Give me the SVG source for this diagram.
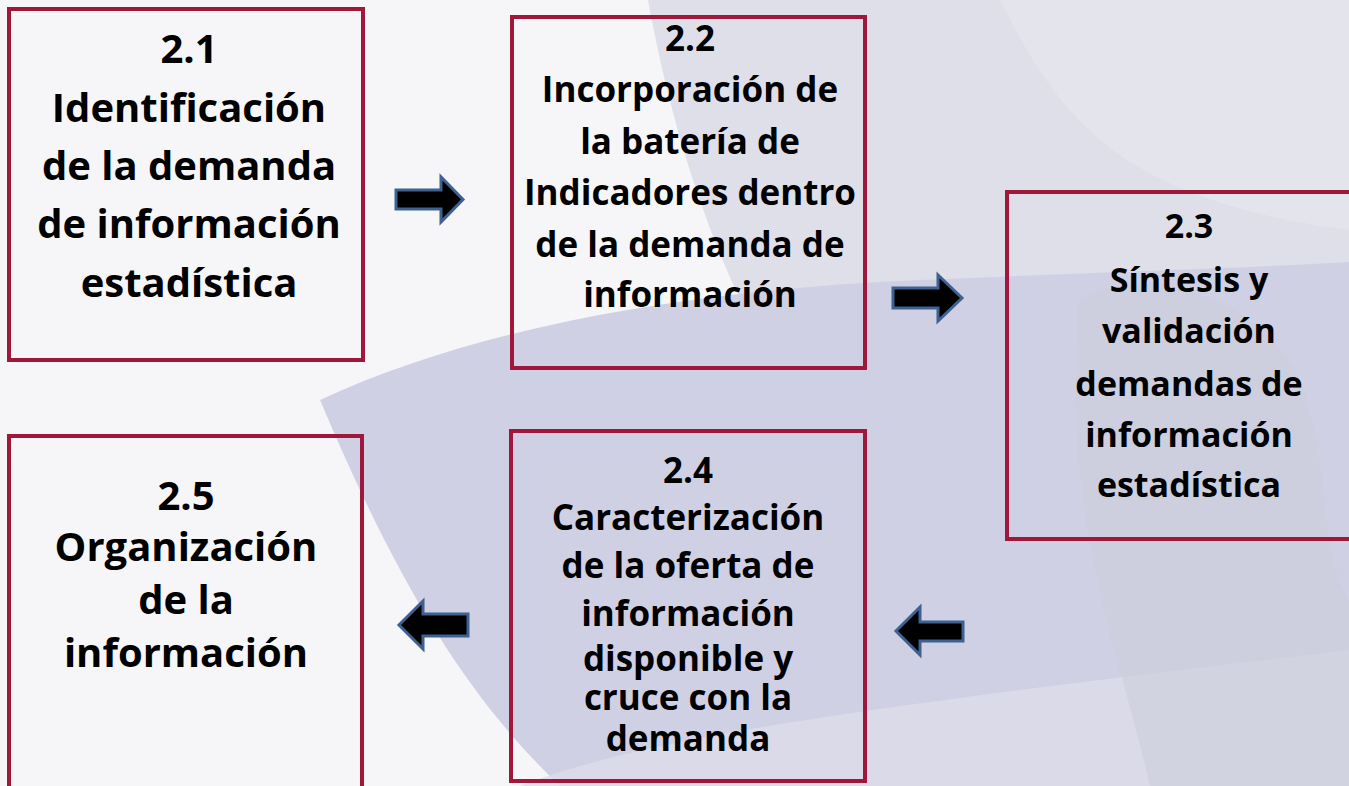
<svg xmlns="http://www.w3.org/2000/svg" width="1349" height="786" viewBox="0 0 1349 786">
<style>
.box{fill:none;stroke:#a0173c;stroke-width:4}
.t{font-family:"Open Sans","Noto Sans","DejaVu Sans",sans-serif;font-weight:bold;font-size:35px;fill:#000;text-anchor:middle}
.big{font-size:40px}
.arr{fill:#000;stroke:#3d6190;stroke-width:3;stroke-linejoin:miter}
</style>
<g id="background">
<rect x="0" y="0" width="1349" height="786" fill="#f6f6f8"/>
<path d="M648,0 C668,110 700,220 750,320 L1349,320 L1349,0 Z" fill="#dfdfea"/>
<path d="M320,400 C470,330 680,290 920,280 C1100,272 1250,268 1349,262 L1349,786 L560,786 C470,700 400,590 320,400 Z" fill="#d0d0e5"/>
<path d="M520,786 C640,740 820,712 1349,650 L1349,786 Z" fill="#dcdcea" opacity="0.8"/>
<path d="M1000,0 C1060,120 1120,200 1349,230 L1349,0 Z" fill="#e6e6ec" opacity="0.7"/>
<path d="M1080,300 C1150,260 1260,300 1300,380 C1330,460 1320,560 1349,600 L1349,786 L1150,786 C1120,650 1060,520 1080,300 Z" fill="#c9ccd8" opacity="0.5"/>
</g>
<g id="connectors">
<path class="arr" d="M396,190 L441,190 L441,177 L463,199.5 L441,222 L441,209 L396,209 Z"/>
<path class="arr" d="M893,288 L938,288 L938,275 L962,298 L938,321 L938,308 L893,308 Z"/>
<path class="arr" d="M468,614 L423,614 L423,601 L399,625 L423,649 L423,636 L468,636 Z"/>
<path class="arr" d="M963,622 L920,622 L920,607 L896,631 L920,655 L920,641 L963,641 Z"/>
</g>
<g id="node-2-1">
<rect class="box" x="9" y="9" width="354" height="351"/>
<text class="t big"><tspan x="189" y="63">2.1</tspan><tspan x="189" y="122">Identificación</tspan><tspan x="189" y="180">de la demanda</tspan><tspan x="189" y="238">de información</tspan><tspan x="189" y="297">estadística</tspan></text>
</g>
<g id="node-2-2">
<rect class="box" x="512" y="17" width="353" height="351"/>
<text class="t"><tspan x="690" y="51">2.2</tspan><tspan x="690" y="102">Incorporación de</tspan><tspan x="690" y="154">la batería de</tspan><tspan x="690" y="205">Indicadores dentro</tspan><tspan x="690" y="257">de la demanda de</tspan><tspan x="690" y="307">información</tspan></text>
</g>
<g id="node-2-3">
<rect class="box" x="1007" y="192" width="350" height="347"/>
<text class="t" style="font-size:34px"><tspan x="1189" y="238">2.3</tspan><tspan x="1189" y="292">Síntesis y</tspan><tspan x="1189" y="343">validación</tspan><tspan x="1189" y="396">demandas de</tspan><tspan x="1189" y="447">información</tspan><tspan x="1189" y="497">estadística</tspan></text>
</g>
<g id="node-2-4">
<rect class="box" x="511" y="431" width="354" height="350"/>
<text class="t"><tspan x="688" y="483">2.4</tspan><tspan x="688" y="530">Caracterización</tspan><tspan x="688" y="578">de la oferta de</tspan><tspan x="688" y="626">información</tspan><tspan x="688" y="671">disponible y</tspan><tspan x="688" y="710">cruce con la</tspan><tspan x="688" y="751">demanda</tspan></text>
</g>
<g id="node-2-5">
<rect class="box" x="9" y="436" width="353" height="360"/>
<text class="t big"><tspan x="186" y="510">2.5</tspan><tspan x="186" y="561">Organización</tspan><tspan x="186" y="614">de la</tspan><tspan x="186" y="667">información</tspan></text>
</g>
</svg>
